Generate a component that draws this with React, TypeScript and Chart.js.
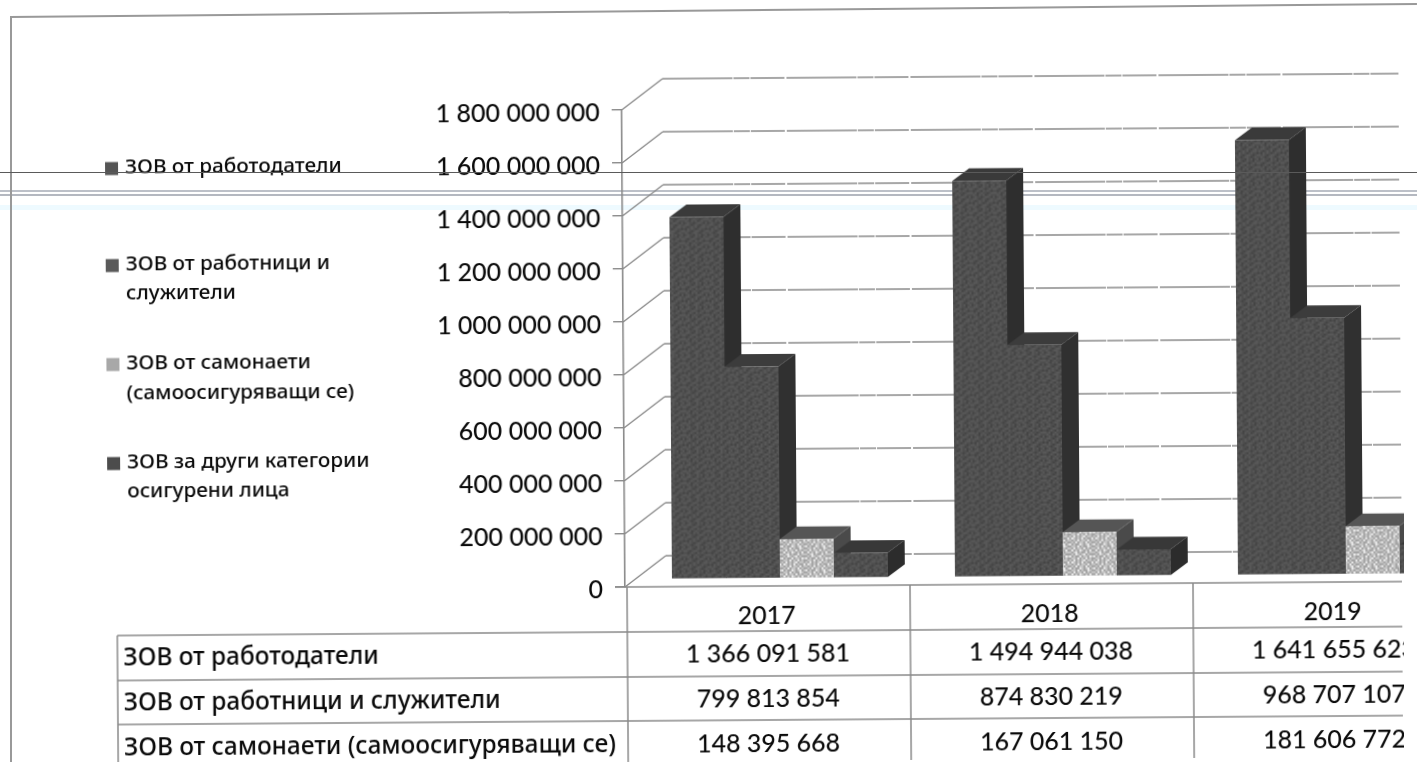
import React, { useEffect, useRef } from "react";
import { Chart, registerables } from "chart.js";

Chart.register(...registerables);

const years = ["2017", "2018", "2019"];
const seriesNames = [
  "ЗОВ от работодатели",
  "ЗОВ от работници и служители",
  "ЗОВ от самонаети (самоосигуряващи се)",
  "ЗОВ за други категории осигурени лица",
];
const employers = [1366091581, 1494944038, 1641655623];
const employees = [799813854, 874830219, 968707107];
const selfEmployed = [148395668, 167061150, 181606772];
const otherCategories = [94000000, 100000000, 110000000];
const legendLines = [
  ["ЗОВ от работодатели"],
  ["ЗОВ от работници и", "служители"],
  ["ЗОВ от самонаети", "(самоосигуряващи се)"],
  ["ЗОВ за други категории", "осигурени лица"],
];
const tableRows = [employers, employees, selfEmployed];

const FONT = "Lato, 'Noto Sans', sans-serif";
const TEXT_FONT = "'Noto Sans', sans-serif";
const INK = "#0a0a0a";
const LINE = "#8a8a8a";
const AXIS_X = 625;
const AXIS_TOP = 110;
const AXIS_BOTTOM = 587;
const BACK_X = 41;
const BACK_Y = -31;
const GRID_END = 1402;
const BAR_DX = 13.5;
const BAR_DY = -7.5;
const DEPTH_X = 17;
const DEPTH_Y = -12.5;

const fmt = (v: number) => String(v).replace(/\B(?=(\d{3})+(?!\d))/g, " ");

const speckleMap = [
  "abacabbacaba",
  "cabaacbabcab",
  "abbacabaacba",
  "bacabbacabab",
  "acabacbabaca",
  "babcabaacabb",
  "abacbabcabaa",
  "cabaacabbacb",
  "abbacabacaba",
  "bacababcabba",
  "acbabacabaac",
  "babacabbacab",
];

function speckle(shades: Record<string, string>): CanvasPattern | string {
  const cell = 2;
  const size = speckleMap.length * cell;
  const c = document.createElement("canvas");
  c.width = size;
  c.height = size;
  const g = c.getContext("2d");
  if (!g) return shades.a;
  speckleMap.forEach((row, y) =>
    row.split("").forEach((k, x) => {
      g.fillStyle = shades[k];
      g.fillRect(x * cell, y * cell, cell, cell);
    })
  );
  return g.createPattern(c, "repeat") || shades.a;
}

const shade = [
  { top: "#3a3a3a", side: "#2e2e2e" },
  { top: "#3c3c3c", side: "#303030" },
  { top: "#555555", side: "#4a4a4a" },
  { top: "#383838", side: "#2c2c2c" },
];

const sketchPlugin = {
  id: "sketch",
  beforeDatasetsDraw(chart: any) {
    const { ctx, scales } = chart;
    const y = scales.y;
    const x = scales.x;
    ctx.save();
    ctx.strokeStyle = LINE;
    ctx.lineWidth = 1.4;
    y.ticks.forEach((t: any) => {
      const py = y.getPixelForValue(t.value);
      ctx.beginPath();
      ctx.moveTo(AXIS_X, py);
      ctx.lineTo(AXIS_X + BACK_X, py + BACK_Y);
      ctx.stroke();
      ctx.setLineDash([70, 1, 16, 1, 34, 2]);
      ctx.beginPath();
      ctx.moveTo(AXIS_X + BACK_X, py + BACK_Y);
      ctx.lineTo(GRID_END, py + BACK_Y);
      ctx.stroke();
      ctx.setLineDash([]);
    });
    const col = x.width / years.length;
    ctx.strokeStyle = "#8a8a8a";
    ctx.lineWidth = 1.5;
    [AXIS_BOTTOM, 632, 677, 721].forEach((ly, i) => {
      ctx.beginPath();
      ctx.moveTo(i === 0 ? AXIS_X - 10 : 117, ly);
      ctx.lineTo(GRID_END, ly);
      ctx.stroke();
    });
    for (let i = 0; i <= years.length; i++) {
      const lx = x.left + i * col + 2;
      ctx.beginPath();
      ctx.moveTo(lx, AXIS_BOTTOM);
      ctx.lineTo(lx, 775);
      ctx.stroke();
    }
    ctx.beginPath();
    ctx.moveTo(117, 632);
    ctx.lineTo(117, 775);
    ctx.stroke();
    ctx.fillStyle = INK;
    ctx.textBaseline = "middle";
    const valueY = [654.5, 699.5, 744.5];
    const labelY = [655.5, 700.5, 745.5];
    ctx.textAlign = "center";
    ctx.font = `500 25px ${FONT}`;
    tableRows.forEach((vals, r) =>
      vals.forEach((v, c) => ctx.fillText(fmt(v), x.getPixelForValue(c) + 1, valueY[r]))
    );
    ctx.textAlign = "left";
    ctx.font = `500 24.4px ${TEXT_FONT}`;
    seriesNames.slice(0, 3).forEach((n, r) => ctx.fillText(n, 123, labelY[r]));
    const legendY = [[164.5], [261.5, 290.5], [360.5, 390.5], [459.5, 488.5]];
    const swatch = ["#555555", "#5a5a5a", "#a8a8a8", "#4c4c4c"];
    ctx.font = `500 20.7px ${TEXT_FONT}`;
    legendLines.forEach((lines, i) => {
      ctx.fillStyle = swatch[i];
      ctx.fillRect(108, legendY[i][0] - 6, 13, 13);
      ctx.fillStyle = INK;
      lines.forEach((l, j) => ctx.fillText(l, 128, legendY[i][j]));
    });
    ctx.restore();
    ctx.save();
    ctx.translate(BAR_DX, BAR_DY);
    // tops and sides go behind every front face, left to right
    chart.data.datasets.forEach((_: any, i: number) => {
      const c = shade[i];
      chart.getDatasetMeta(i).data.forEach((b: any) => {
        const l = b.x - b.width / 2;
        const r = b.x + b.width / 2;
        const t = b.y;
        ctx.fillStyle = c.top;
        ctx.beginPath();
        ctx.moveTo(l, t);
        ctx.lineTo(l + DEPTH_X, t + DEPTH_Y);
        ctx.lineTo(r + DEPTH_X, t + DEPTH_Y);
        ctx.lineTo(r, t);
        ctx.closePath();
        ctx.fill();
        ctx.fillStyle = c.side;
        ctx.beginPath();
        ctx.moveTo(r, t);
        ctx.lineTo(r + DEPTH_X, t + DEPTH_Y);
        ctx.lineTo(r + DEPTH_X, b.base + DEPTH_Y);
        ctx.lineTo(r, b.base);
        ctx.closePath();
        ctx.fill();
      });
    });
  },
  afterDatasetsDraw(chart: any) {
    chart.ctx.restore();
  },
};

export default function App() {
  const ref = useRef<HTMLCanvasElement | null>(null);
  useEffect(() => {
    if (!ref.current) return;
    const dark = speckle({ a: "#4e4e4e", b: "#585858", c: "#444444" });
    const fills = [dark, dark, speckle({ a: "#a2a2a2", b: "#c6c6c6", c: "#ededed" }), dark];
    const values = [employers, employees, selfEmployed, otherCategories];
    const chart = new Chart(ref.current, {
      type: "bar",
      data: {
        labels: years,
        datasets: seriesNames.map((label, i) => ({
          label,
          data: values[i],
          backgroundColor: fills[i] as any,
          barPercentage: 1,
          categoryPercentage: 0.763,
        })),
      },
      options: {
        responsive: false,
        animation: false,
        layout: { padding: { top: AXIS_TOP, left: 0, right: 0, bottom: 0 } },
        plugins: { legend: { display: false }, tooltip: { enabled: false }, title: { display: false } },
        scales: {
          x: {
            grid: { display: false },
            border: { display: false },
            ticks: { color: INK, font: { size: 25, family: FONT, weight: "500" }, padding: 7, maxRotation: 0 },
            afterFit(s: any) {
              s.height = 762 - AXIS_BOTTOM;
            },
          },
          y: {
            min: 0,
            max: 1800000000,
            grid: { drawOnChartArea: false, tickLength: 10, color: LINE, lineWidth: 1.4 },
            border: { color: LINE, width: 1.6 },
            ticks: {
              stepSize: 200000000,
              color: INK,
              font: { size: 25, family: FONT, weight: "500" },
              padding: 12,
              labelOffset: 3,
              callback: (v: any) => fmt(Number(v)),
            },
            afterFit(s: any) {
              s.width = AXIS_X;
            },
          },
        },
      },
      plugins: [sketchPlugin],
    });
    return () => chart.destroy();
  }, []);

  const bar = (top: number, color: string, h = 1.5, z = 0) => (
    <div style={{ position: "absolute", left: 0, top, width: 1417, height: h, background: color, zIndex: z }} />
  );

  return (
    <div style={{ position: "fixed", left: 0, top: 0, width: 1417, height: 762, overflow: "hidden", background: "#fff" }}>
      <div style={{ position: "absolute", left: 0, top: 205, width: 1417, height: 5, background: "#eefaff" }} />
      {bar(190, "#bcc0c8")}
      {bar(194, "#b4b8c0")}
      <div
        style={{
          position: "absolute",
          left: 10,
          top: 16,
          width: 1407,
          height: 1.5,
          background: "#999",
          transformOrigin: "0 0",
          transform: "rotate(-0.53deg)",
        }}
      />
      <div style={{ position: "absolute", left: 10, top: 16, width: 1.5, height: 746, background: "#999" }} />
      <div style={{ position: "absolute", left: 0, top: 0, width: 1404, height: 762, overflow: "hidden", zIndex: 1 }}>
        <canvas
          ref={ref}
          width={1474}
          height={762}
          style={{
            display: "block",
            transformOrigin: `${AXIS_X}px ${AXIS_BOTTOM}px`,
            transform: "rotate(-0.4deg)",
          }}
        />
      </div>
      {bar(171.5, "#5a5a5a", 1.5, 2)}
    </div>
  );
}
